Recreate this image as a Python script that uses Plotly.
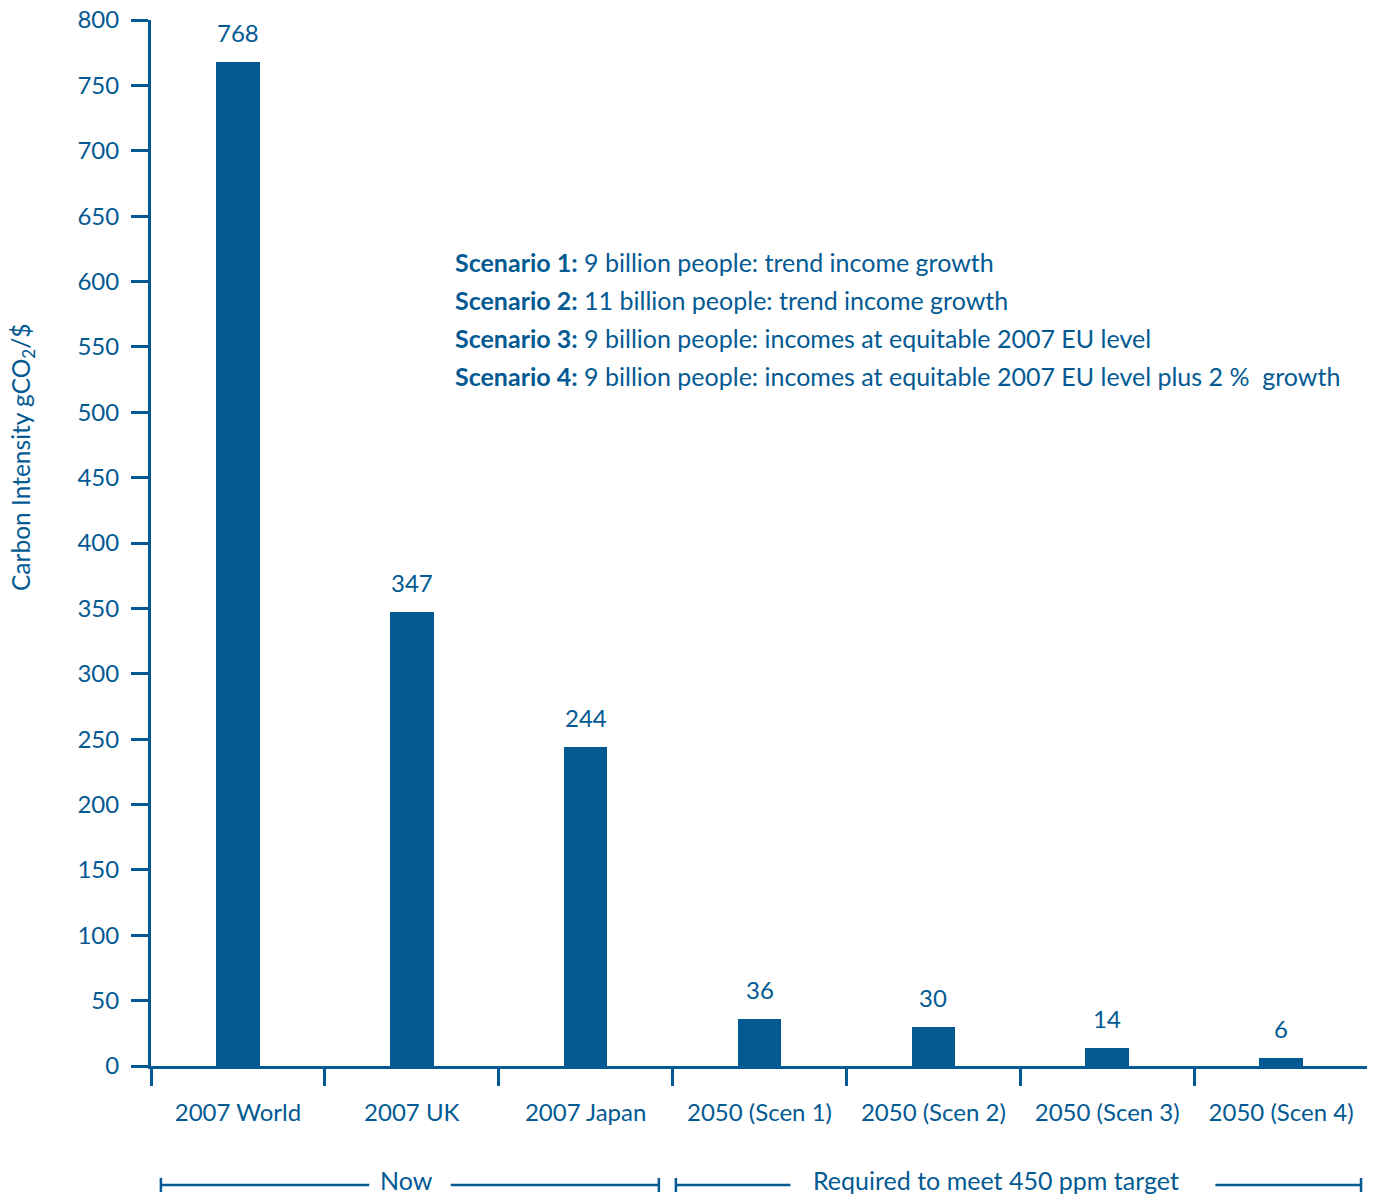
import plotly.graph_objects as go

categories = ["2007 World", "2007 UK", "2007 Japan", "2050 (Scen 1)", "2050 (Scen 2)", "2050 (Scen 3)", "2050 (Scen 4)"]
values = [768, 347, 244, 36, 30, 14, 6]
y_ticks = list(range(0, 801, 50))
scenario_heads = ["Scenario 1:", "Scenario 2:", "Scenario 3:", "Scenario 4:"]
scenario_texts = [
    "9 billion people: trend income growth",
    "11 billion people: trend income growth",
    "9 billion people: incomes at equitable 2007 EU level",
    "9 billion people: incomes at equitable 2007 EU level plus 2 %  growth",
]
# (label, bracket start, gap start, text centre, gap end, bracket end) in category units
groups = [("Now", -0.443, 0.755, 0.969, 1.224, 2.421),
          ("Required to meet 450 ppm target", 2.519, 3.178, 4.358, 5.622, 6.46)]

BLUE = "#035a93"
FONT = "Lato"

fig = go.Figure()
fig.add_trace(go.Bar(x=categories, y=values, width=0.25, marker=dict(color=BLUE, line=dict(width=0)),
                     hoverinfo="skip"))

for c, v in zip(categories, values):
    fig.add_annotation(x=c, y=v, text=str(v), showarrow=False, yanchor="bottom", yshift=13,
                       font=dict(family=FONT, size=24, color=BLUE))

for i, (h, t) in enumerate(zip(scenario_heads, scenario_texts)):
    fig.add_annotation(xref="paper", yref="paper", x=(453 - 151) / 1217, y=(1066 - (262 + 38 * i)) / 1046,
                       text=f"<b>{h}</b> {t}", showarrow=False, xanchor="left", yanchor="middle",
                       font=dict(family=FONT, size=25, color=BLUE))

fig.add_annotation(xref="paper", yref="paper", x=(23 - 151) / 1217, y=(1066 - 457) / 1046,
                   text="Carbon Intensity gCO<sub>2</sub>/$", textangle=-90, showarrow=False,
                   xanchor="center", yanchor="middle", font=dict(family=FONT, size=24.5, color=BLUE))

ybr = (1066 - 1185) / 1046
ytxt = (1066 - 1180) / 1046
cap = 7 / 1046
for label, x0, g0, xm, g1, x1 in groups:
    fig.add_shape(type="line", xref="x", yref="paper", x0=x0, x1=g0, y0=ybr, y1=ybr,
                  line=dict(color=BLUE, width=2.5))
    fig.add_shape(type="line", xref="x", yref="paper", x0=g1, x1=x1, y0=ybr, y1=ybr,
                  line=dict(color=BLUE, width=2.5))
    for xe in (x0, x1):
        fig.add_shape(type="line", xref="x", yref="paper", x0=xe, x1=xe, y0=ybr - cap, y1=ybr + cap,
                      line=dict(color=BLUE, width=2.5))
    fig.add_annotation(xref="x", yref="paper", x=xm, y=ytxt, text=label, showarrow=False,
                       yanchor="middle", font=dict(family=FONT, size=25, color=BLUE))

fig.update_layout(
    width=1367, height=1187,
    margin=dict(l=143, r=7, t=12, b=129),
    plot_bgcolor="white", paper_bgcolor="white",
    showlegend=False,
    bargap=0,
    font=dict(family=FONT, size=24, color=BLUE),
)
fig.update_xaxes(type="category", range=[-0.5, 6.5], showline=True, linecolor=BLUE, linewidth=3,
                 ticks="outside", tickson="boundaries", ticklen=17, tickwidth=3, tickcolor=BLUE,
                 ticklabelstandoff=23, showgrid=False, zeroline=False, automargin=False,
                 ticklabeloverflow="allow",
                 tickfont=dict(family=FONT, size=24, color=BLUE))
fig.update_yaxes(range=[0, 800], tickvals=y_ticks, showline=True, linecolor=BLUE, linewidth=3,
                 ticks="outside", ticklen=17, tickwidth=3, tickcolor=BLUE, ticklabelstandoff=7,
                 showgrid=False, zeroline=False, automargin=False,
                 ticklabeloverflow="allow",
                 tickfont=dict(family=FONT, size=24, color=BLUE))

fig.write_html("out.html")
